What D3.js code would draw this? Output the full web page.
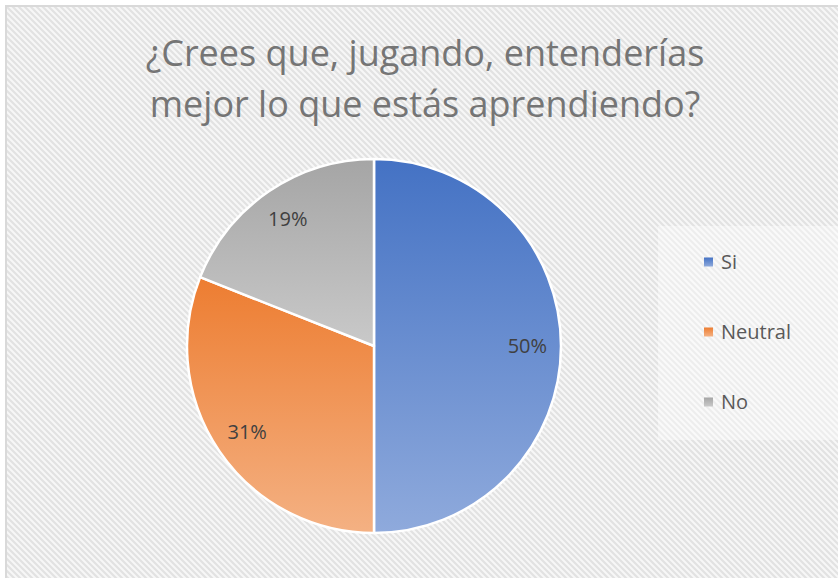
<!DOCTYPE html>
<html>
<head>
<meta charset="utf-8">
<script src="https://cdn.jsdelivr.net/npm/d3@7"></script>
<style>
  body { margin: 0; background: #fff; }
  svg { display: block; }
</style>
</head>
<body>
<svg id="chart" width="838" height="578"></svg>
<script>
var titleLines = ["¿Crees que, jugando, entenderías", "mejor lo que estás aprendiendo?"];
var categories = ["Si", "Neutral", "No"];
var values = [50, 31, 19];
var topColors = ["#4472C4", "#ED7D31", "#A5A5A5"];
var bottomColors = ["#8FAADC", "#F4B183", "#C9C9C9"];

var svg = d3.select("#chart");
var defs = svg.append("defs");

// diagonal hatch of the chart area
var hatch = defs.append("pattern")
	.attr("id", "hatch")
	.attr("patternUnits", "userSpaceOnUse")
	.attr("width", 6)
	.attr("height", 6);
hatch.append("rect").attr("width", 6).attr("height", 6).attr("fill", "#f7f7f7");
hatch.append("path")
	.attr("d", "M-1,-1L7,7M-1,5L1,7M5,-1L7,1")
	.attr("stroke", "#e2e2e2")
	.attr("stroke-width", 2.2);

svg.append("rect")
	.attr("x", 6).attr("y", 6)
	.attr("width", 850).attr("height", 600)
	.attr("fill", "url(#hatch)")
	.attr("stroke", "#d9d9d9")
	.attr("stroke-width", 2);

// title
svg.append("text")
	.attr("x", 425)
	.attr("text-anchor", "middle")
	.style("font-family", "'Open Sans', sans-serif")
	.style("font-size", "36px")
	.attr("fill", "#757575")
	.selectAll("tspan")
	.data(titleLines)
	.enter().append("tspan")
	.attr("x", 425)
	.attr("y", function(d, i) { return 66 + i * 51; })
	.text(function(d) { return d; });

// gradients, one per slice
categories.forEach(function(c, i) {
	var g = defs.append("linearGradient")
		.attr("id", "grad" + i)
		.attr("x1", 0).attr("y1", 0).attr("x2", 0).attr("y2", 1);
	g.append("stop").attr("offset", "0%").attr("stop-color", topColors[i]);
	g.append("stop").attr("offset", "100%").attr("stop-color", bottomColors[i]);
});

var cx = 374, cy = 346, radius = 187;
var pie = d3.pie().sort(null).value(function(d) { return d; });
var arc = d3.arc().innerRadius(0).outerRadius(radius);
var arcs = pie(values);
var total = d3.sum(values);

var g = svg.append("g").attr("transform", "translate(" + cx + "," + cy + ")");
g.selectAll(".slice")
	.data(arcs)
	.enter().append("path")
	.attr("class", "slice")
	.attr("d", arc)
	.attr("fill", function(d, i) { return "url(#grad" + i + ")"; })
	.attr("stroke", "#ffffff")
	.attr("stroke-width", 2.5)
	.attr("stroke-linejoin", "round");

var labelArc = d3.arc().innerRadius(radius * 0.82).outerRadius(radius * 0.82);
g.selectAll(".label")
	.data(arcs)
	.enter().append("text")
	.attr("class", "label")
	.attr("transform", function(d) { return "translate(" + labelArc.centroid(d) + ")"; })
	.attr("text-anchor", "middle")
	.attr("dy", "0.35em")
	.style("font-family", "'Open Sans', sans-serif")
	.style("font-size", "20px")
	.attr("fill", "#404040")
	.text(function(d) { return Math.round(d.value / total * 100) + "%"; });

// legend
svg.append("rect")
	.attr("x", 658).attr("y", 226)
	.attr("width", 190).attr("height", 214)
	.attr("fill", "#ffffff")
	.attr("fill-opacity", 0.4);

var legendScale = d3.scalePoint().domain(categories).range([262, 402]);
var legend = svg.selectAll(".legend")
	.data(categories)
	.enter().append("g")
	.attr("class", "legend")
	.attr("transform", function(d) { return "translate(704," + legendScale(d) + ")"; });
legend.append("rect")
	.attr("x", 0).attr("y", -4.5)
	.attr("width", 9).attr("height", 9)
	.attr("fill", function(d, i) { return "url(#grad" + i + ")"; });
legend.append("text")
	.attr("x", 17)
	.attr("dy", "0.35em")
	.style("font-family", "'Open Sans', sans-serif")
	.style("font-size", "20px")
	.attr("fill", "#595959")
	.text(function(d) { return d; });
</script>
</body>
</html>
